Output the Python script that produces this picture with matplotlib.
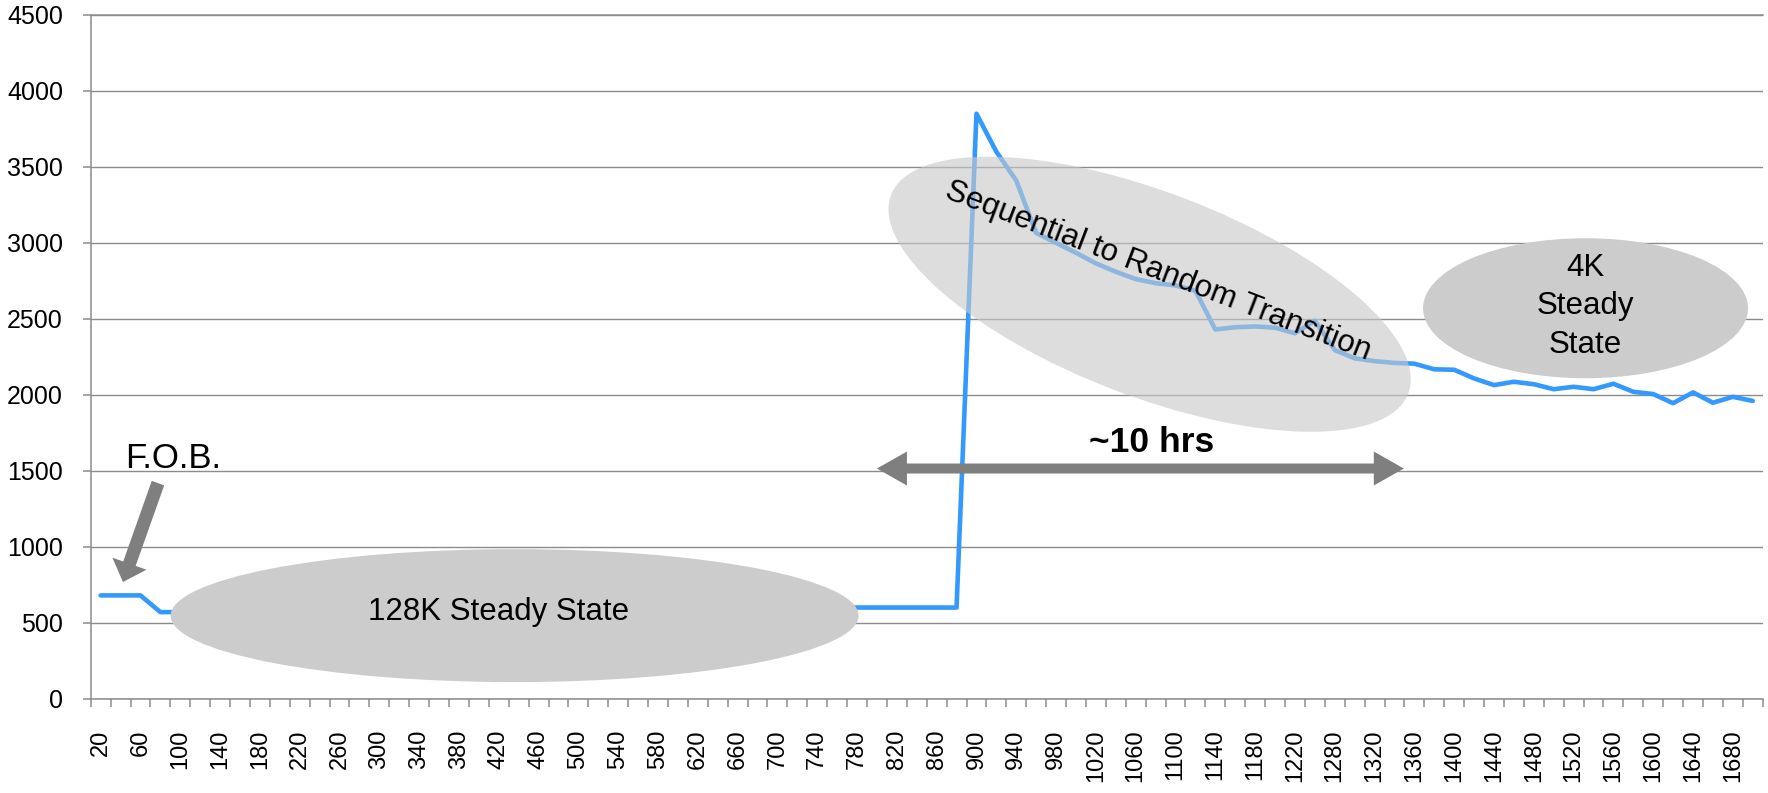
import matplotlib
matplotlib.use("Agg")
import matplotlib.pyplot as plt
from matplotlib import transforms
from matplotlib.patches import Ellipse, FancyArrowPatch, ArrowStyle, Polygon

plt.rcParams['font.family'] = ['Liberation Sans', 'DejaVu Sans']

# temps (min) - une mesure manque entre 1240 et 1280
minutes = list(range(20, 1241, 20)) + list(range(1280, 1701, 20))

iops = [
    680, 680, 680, 570, 570, 570, 570, 570, 570, 570,
    570, 570, 570, 570, 570, 570, 570, 570, 570, 570,
    570, 600, 600, 600, 600, 600, 600, 600, 600, 600,
    600, 600, 600, 600, 600, 600, 600, 600, 600, 600,
    600, 600, 600, 600, 3850, 3600, 3410, 3065, 3000, 2935,
    2865, 2810, 2762, 2735, 2720, 2685, 2430, 2445, 2450, 2442,
    2405, 2488, 2295, 2240, 2222, 2210, 2205, 2168, 2165, 2108,
    2064, 2086, 2070, 2037, 2053, 2037, 2073, 2020, 2005, 1945,
    2016, 1948, 1987, 1960,
]

y_ticks = [0, 500, 1000, 1500, 2000, 2500, 3000, 3500, 4000, 4500]

BLEU = "#3399FF"
GRIS_AXE = "#8B8B8B"
GRIS_FLECHE = "#7F7F7F"

fig = plt.figure(figsize=(17.68, 7.93), dpi=100)
ax = fig.add_axes([0.0513, 0.1189, 0.9457, 0.8622])

x = list(range(len(minutes)))
ax.plot(x, iops, color=BLEU, lw=3.3, solid_joinstyle="round",
        solid_capstyle="round", zorder=2)
ax.set_xlim(-0.5, len(minutes) - 0.5)
ax.set_ylim(0, 4500)

# axes facon Excel
ax.set_yticks(y_ticks)
ax.set_yticklabels([str(v) for v in y_ticks], fontsize=18)
ax.yaxis.grid(True, color=GRIS_AXE, lw=1.0)
ax.set_axisbelow(True)
for s in ["left", "bottom", "top"]:
    ax.spines[s].set_color(GRIS_AXE)
    ax.spines[s].set_linewidth(1.1)
ax.spines["right"].set_visible(False)
ax.tick_params(axis="y", length=5.5, width=1.1, color=GRIS_AXE, pad=14.5)

bornes = [i - 0.5 for i in range(len(minutes) + 1)]
ax.set_xticks(bornes)
ax.set_xticklabels([])
ax.tick_params(axis="x", which="major", length=5.8, width=1.1, color=GRIS_AXE)
ax.set_xticks(x[::2], minor=True)
ax.set_xticklabels([str(m) for m in minutes[::2]], minor=True,
                   rotation=90, fontsize=17)
ax.tick_params(axis="x", which="minor", length=0, pad=22)


def ancre(xd, yd):
    # taille en pouces, centre en coordonnees de donnees
    return fig.dpi_scale_trans + transforms.ScaledTranslation(xd, yd, ax.transData)


ell_128k = Ellipse((0, 0), 6.88, 1.33, transform=ancre(20.8, 547),
                   facecolor="#CCCCCC", edgecolor="none", zorder=3, clip_on=False)
ell_seq = Ellipse((0, 0), 5.54, 2.04, angle=-21, transform=ancre(52.7, 2662),
                  facecolor="#C8C8C8", alpha=0.62, edgecolor="none", zorder=3,
                  clip_on=False)
ell_4k = Ellipse((0, 0), 3.25, 1.40, transform=ancre(74.6, 2570),
                 facecolor="#CCCCCC", edgecolor="none", zorder=3, clip_on=False)
for e in (ell_128k, ell_seq, ell_4k):
    ax.add_artist(e)

ax.text(20.0, 518, "128K Steady State", fontsize=22.5, ha="center",
        va="baseline", zorder=5)
ax.text(53.1, 2812, "Sequential to Random Transition", fontsize=22.5,
        rotation=-21, rotation_mode="anchor", ha="center", va="center", zorder=5)
ax.text(74.6, 2583, "4K\nSteady\nState", fontsize=22.5, ha="center",
        va="center", linespacing=1.38, zorder=5)
ax.text(52.8, 1625, "~10 hrs", fontsize=25.5, fontweight="bold",
        ha="center", va="baseline", zorder=5)
ax.text(3.63, 1518, "F.O.B.", fontsize=25, ha="center", va="baseline", zorder=5)

# fleche double ~10 hrs, un seul polygone en pixels
(xg, yf), (xd, _) = ax.transData.transform([(39.0, 1515), (65.47, 1515)])
lt, dl, dq = 30, 17, 5  # longueur tete, demi-largeur tete, demi-largeur queue
pts = [
    (xg, yf), (xg + lt, yf + dl), (xg + lt, yf + dq), (xd - lt, yf + dq),
    (xd - lt, yf + dl), (xd, yf), (xd - lt, yf - dl), (xd - lt, yf - dq),
    (xg + lt, yf - dq), (xg + lt, yf - dl),
]
ax.add_artist(Polygon(pts, closed=True, transform=transforms.IdentityTransform(),
                      facecolor=GRIS_FLECHE, edgecolor="none", zorder=4))

# fleche F.O.B.
style_fob = ArrowStyle.Simple(head_length=14, head_width=26, tail_width=9.5)
ax.add_patch(FancyArrowPatch((2.88, 1419), (1.12, 768), arrowstyle=style_fob,
                             mutation_scale=1, shrinkA=0, shrinkB=0,
                             color=GRIS_FLECHE, lw=0, zorder=4, clip_on=False))

fig.savefig("out.png", dpi=100)
